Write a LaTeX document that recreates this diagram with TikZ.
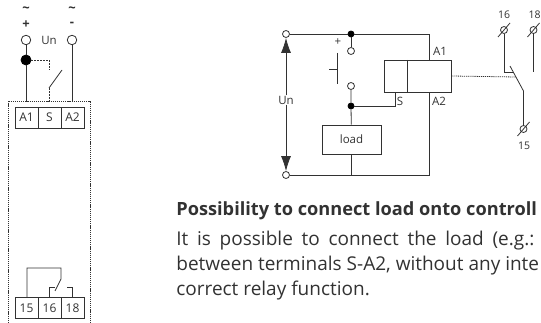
\documentclass[tikz,border=0pt]{standalone}
\usepackage{fontspec}
\setmainfont{Open Sans}
\usetikzlibrary{positioning}
\usetikzlibrary{calc}
\usetikzlibrary{arrows.meta}
\definecolor{wire}{RGB}{50,50,50}
\begin{document}
\begin{tikzpicture}[
		x=1pt, y=-1pt,
		color=wire,
		every path/.style={line width=0.8pt},
		port/.style={circle, draw, fill=white, inner sep=0pt, minimum size=7pt},
		bigport/.style={circle, draw, fill=white, inner sep=0pt, minimum size=9.5pt},
		dot/.style={circle, fill=black, draw=black, inner sep=0pt, minimum size=6pt},
		bigdot/.style={circle, fill=black, draw=black, inner sep=0pt, minimum size=10pt},
		term/.style={rectangle, draw, minimum width=23pt, minimum height=21pt, inner sep=0pt, font=\fontsize{12}{12}\selectfont},
		lbl/.style={inner sep=0pt, font=\fontsize{11.5}{12}\selectfont},
		small/.style={inner sep=0pt, font=\fontsize{10.5}{11}\selectfont},
		sign/.style={inner sep=0pt, font=\fontsize{13}{10}\selectfont\bfseries},
		ctrl/.style={dash pattern=on 2pt off 1pt},
		edge/.style={line width=0.8pt, dash pattern=on 1.2pt off 0.9pt},
		arrow/.style={-{Latex[length=15pt,width=10pt]}},
		para/.style={anchor=base west, inner sep=0pt, font=\fontsize{19}{22}\selectfont}
	]
	\useasboundingbox (0,0) rectangle (541,323);

	% Left device
	\node[bigport] (plus) at (26,40) {};
	\node[bigport] (minus) at (72,40) {};
	\node[sign] (acl) at (26,10) {\textasciitilde};
	\node[sign] (acr) at (72,10) {\textasciitilde};
	\node[sign] (plussign) at (26,24.5) {+};
	\node[sign] (minussign) at (72,24.5) {-};
	\node[lbl] (unleft) at (49,40) {Un};
	\node[bigdot] (join) at (26,60) {};
	\coordinate (plusin) at (26,101);
	\coordinate (minusin) at (72,101);
	\coordinate (sin) at (49,101);
	\coordinate (hinge) at (49,88);
	\coordinate (blade) at (62,70);
	\coordinate (bend) at (49,60);
	\coordinate (tl) at (8,101);
	\coordinate (tr) at (90,101);
	\coordinate (bl) at (8,323);
	\coordinate (br) at (90,323);
	\draw[edge] (bl) -- (tl) -- (tr) -- (br);
	\draw (plus) -- (join) -- (plusin);
	\draw (minus) -- (minusin);
	\draw[ctrl] (join) -- (bend) -- ($(bend)+(0,10)$);
	\draw (blade) -- (hinge);
	\draw[ctrl] (hinge) -- (sin);

	\node[term] (ta1) at (26.5,117.5) {A1};
	\node[term] (ts) at (49.5,117.5) {S};
	\node[term] (ta2) at (72.5,117.5) {A2};
	\node[term] (t15) at (26.5,308) {15};
	\node[term] (t16) at (49.5,308) {16};
	\node[term] (t18) at (72.5,308) {18};

	\coordinate (c15) at (27,268);
	\coordinate (c61) at (61,268);
	\coordinate (c61b) at (61,279);
	\coordinate (c55) at (55,291);
	\draw (t15.north -| c15) -- (c15) -- (c61) -- (c61b) -- (c55);
	\draw (t16.north) -- ++(0,-10) -- ++(5.5,0);
	\draw (t18.north) -- ++(0,-10) -- ++(-6,0);

	% Load circuit
	\node[port] (top) at (286,34) {};
	\node[port] (bottom) at (286,175) {};
	\node[lbl] (un) at (286,100) {Un};
	\draw[arrow] (un) -- (top);
	\draw[arrow] (un) -- (bottom);

	\node[dot] (topdot) at (351,34) {};
	\node[port] (swtop) at (351,51) {};
	\node[port] (swbot) at (351,86) {};
	\node[dot] (sdot) at (351,106) {};
	\node[rectangle, draw, minimum width=59pt, minimum height=29pt, inner sep=0pt, lbl] (load) at (351.5,139.5) {load};
	\node[rectangle, draw, minimum width=67pt, minimum height=32pt, inner sep=0pt] (coil) at (417.5,76) {};
	\node[lbl] (plusbtn) at (338,42) {+};
	\node[lbl] (la1) at (440,51) {A1};
	\node[lbl] (la2) at (439,101) {A2};
	\node[lbl] (ls) at (400,101) {S};

	\coordinate (a1) at (429,60);
	\coordinate (a2) at (429,92);
	\coordinate (sin2) at (395,92);
	\coordinate (divtop) at (407,60);
	\coordinate (divbot) at (407,92);
	\coordinate (btntop) at (337,53);
	\coordinate (btnbot) at (337,84);
	\coordinate (btnmid) at (337,69);
	\coordinate (btnpush) at (329,69);
	\draw (top) -- (topdot) -- (a1 |- top) -- (a1);
	\draw (topdot) -- (swtop);
	\draw (swbot) -- (sdot) -- (load);
	\draw (sdot) -- (sin2 |- sdot) -- (sin2);
	\draw (load) -- (load |- bottom);
	\draw (bottom) -- (a2 |- bottom) -- (a2);
	\draw (divtop) -- (divbot);
	\draw (btntop) -- (btnbot);
	\draw (btnpush) -- (btnmid);

	% Contact
	\node[port] (p16) at (504,30) {};
	\node[port] (p18) at (533.5,30) {};
	\node[port] (p15) at (523.5,129) {};
	\node[small] (n16) at (504,15) {16};
	\node[small] (n18) at (534.5,15) {18};
	\node[small] (n15) at (524,146) {15};
	\foreach \t in {p16,p18,p15}
		\draw ([shift={(-6,7)}]\t.center) -- ([shift={(6,-7)}]\t.center);
	\coordinate (pivot) at (523.5,91);
	\coordinate (tip) at (510,66);
	\coordinate (rest) at (504,72);
	\coordinate (restend) at (514,72);
	\coordinate (open) at (533.5,72);
	\coordinate (link) at (516,77);
	\draw (p15) -- (pivot) -- (tip);
	\draw (p16) -- (rest) -- (restend);
	\draw (p18) -- (open);
	\draw[edge] (coil.east) -- (link);

	% Text
	\node[para, font=\fontsize{18.2}{22}\selectfont\bfseries] (head) at (176,216) {Possibility to connect load onto controll};
	\node[para] (line1) at (176,246) {\makebox[358pt][s]{It is possible to connect the load (e.g.:}};
	\node[para] (line2) at (176,270) {between terminals S-A2, without any inte};
	\node[para] (line3) at (176,295) {correct relay function.};
\end{tikzpicture}
\end{document}
